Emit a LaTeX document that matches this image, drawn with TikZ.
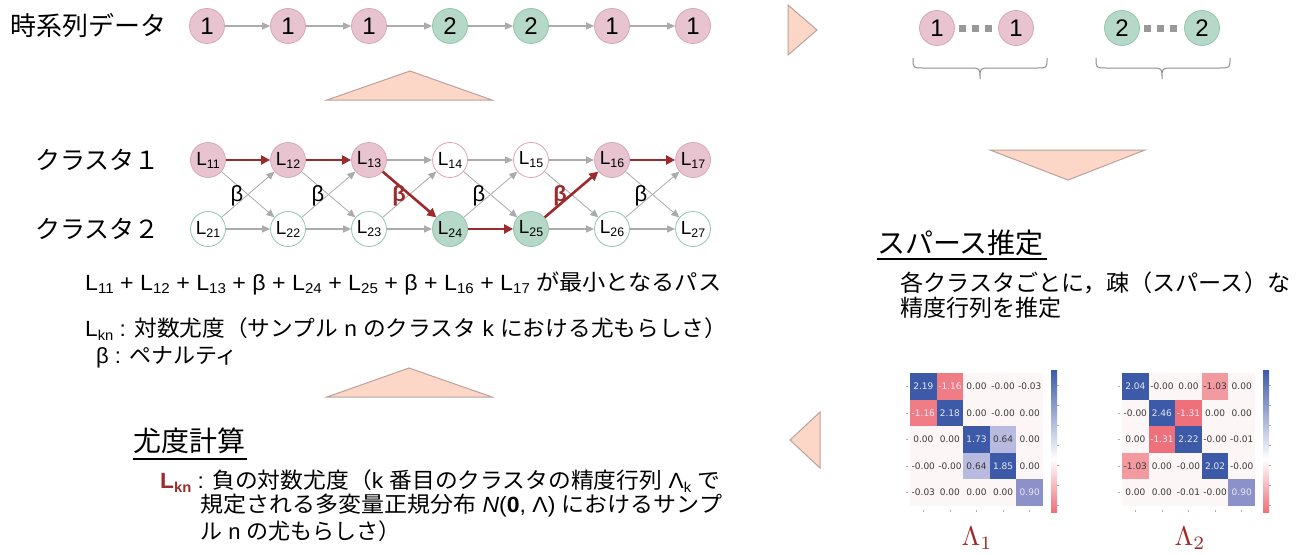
\documentclass[tikz,border=0pt]{standalone}
\usepackage{fontspec}
\usepackage{graphicx}
\setmainfont{Liberation Sans}
\newfontfamily\jp{Noto Sans CJK JP}
\newfontfamily\dvs{DejaVu Sans}
\usetikzlibrary{arrows.meta}
\definecolor{pinkF}{HTML}{E8C4D1}
\definecolor{pinkL}{HTML}{D9A6B8}
\definecolor{greenF}{HTML}{B6D8C9}
\definecolor{greenL}{HTML}{92C6AE}
\definecolor{triF}{HTML}{FCD6C6}
\definecolor{triL}{HTML}{BCA29A}
\definecolor{arrG}{HTML}{ABABAB}
\definecolor{redP}{HTML}{9E2B2B}
\definecolor{braceG}{HTML}{8E8E8E}
\definecolor{hB}{HTML}{3C5AA8}
\definecolor{h9}{HTML}{8D91CA}
\definecolor{h6}{HTML}{B8BADF}
\definecolor{hR1}{HTML}{F07C86}
\definecolor{hR3}{HTML}{EE707B}
\definecolor{hR0}{HTML}{F39AA1}
\definecolor{hZ}{HTML}{FCF6F6}
\definecolor{hD}{HTML}{3A3A3A}
\definecolor{hL}{HTML}{E6E9F4}
\newcommand\Lsb[1]{L\raisebox{-0.3ex}{\scalebox{0.65}{#1}}}
\newcommand\drawheat[3]{%
  \foreach \cx/\ry/\fc/\tc/\val in {#3} {%
    \fill[\fc] ({#1+26.6*\cx},{#2+26.6*\ry}) rectangle ++(26.6,26.6);
    \node[hmt,text=\tc] at ({#1+26.6*\cx+13.3},{#2+26.6*\ry+13.3}) {\val};
  }%
  \foreach \k in {0,...,4} {%
    \draw[arrG,line width=0.5pt] ({#1-4},{#2+26.6*\k+13.3}) -- ++(2,0);
    \draw[arrG,line width=0.5pt] ({#1+26.6*\k+13.3},{#2+137}) -- ++(0,2);
  }%
}
\tikzset{
  tri/.style={fill=triF, draw=triL, line width=1pt, line join=miter},
  cbase/.style={circle, minimum size=35pt, inner sep=0pt, line width=0.8pt},
  cp/.style={cbase, fill=pinkF, draw=pinkL},
  cg/.style={cbase, fill=greenF, draw=greenL},
  op/.style={cbase, fill=white, draw=pinkL},
  og/.style={cbase, fill=white, draw=greenL},
  num/.style={font=\fontsize{24}{24}\selectfont},
  lab/.style={font=\fontsize{19}{19}\selectfont},
  garr/.style={draw=arrG, line width=1.3pt, -{Triangle[length=8pt,width=7pt]}},
  xarr/.style={draw=arrG, line width=0.8pt, -{Triangle[length=8pt,width=7pt]}},
  rarr/.style={draw=redP, line width=2.6pt, -{Triangle[length=9pt,width=9pt]}},
  beta/.style={font=\fontsize{22}{22}\selectfont, inner sep=0pt},
  rbeta/.style={beta, text=redP, font=\fontsize{22}{22}\selectfont\bfseries},
  jtxt/.style={anchor=west, inner sep=0pt},
  hmt/.style={font=\dvs\fontsize{9}{9}\selectfont, inner sep=0pt},
  brace/.style={draw=braceG, line width=1pt},
  dotsq/.style={draw=gray!80, line width=7pt, dash pattern=on 7pt off 6pt, shorten <=4pt, shorten >=4pt},
  lamlab/.style={text=redP, inner sep=0pt}
}
\begin{document}
\begin{tikzpicture}[x=1pt,y=-1pt]
\useasboundingbox (0,0) rectangle (1300,554);
\fill[white] (0,0) rectangle (1300,554);

% ---- time series
\node[jtxt, font=\jp\fontsize{26}{26}\selectfont] (ts) at (10,26) {時系列データ};
\node[cp,num] (t1) at (207,26) {1};
\node[cp,num] (t2) at (288,26) {1};
\node[cp,num] (t3) at (369,26) {1};
\node[cg,num] (t4) at (450,26) {2};
\node[cg,num] (t5) at (531,26) {2};
\node[cp,num] (t6) at (612,26) {1};
\node[cp,num] (t7) at (693,26) {1};
\foreach \a/\b in {t1/t2,t2/t3,t3/t4,t4/t5,t5/t6,t6/t7} \draw[garr,line width=1.1pt] (\a) -- (\b);

% ---- triangles
\draw[tri] (327,100) -- (410,71) -- (492,100) -- cycle;
\draw[tri] (327,397) -- (409,368) -- (492,397) -- cycle;
\draw[tri] (788,5) -- (817,30) -- (788,55) -- cycle;
\draw[tri] (990,150) -- (1145,150) -- (1068,180) -- cycle;
\draw[tri] (820,412) -- (790,440) -- (820,468) -- cycle;

% ---- lattice
\node[jtxt, font=\jp\fontsize{25}{25}\selectfont] (k1) at (35,160) {クラスタ１};
\node[jtxt, font=\jp\fontsize{25}{25}\selectfont] (k2) at (35,229) {クラスタ２};
\node[cp,lab] (a1) at (208,160) {\Lsb{11}};
\node[cp,lab] (a2) at (288,160) {\Lsb{12}};
\node[cp,lab] (a3) at (369,160) {\Lsb{13}};
\node[op,lab] (a4) at (450,160) {\Lsb{14}};
\node[op,lab] (a5) at (531,160) {\Lsb{15}};
\node[cp,lab] (a6) at (612,160) {\Lsb{16}};
\node[cp,lab] (a7) at (693,160) {\Lsb{17}};
\node[og,lab] (b1) at (208,229) {\Lsb{21}};
\node[og,lab] (b2) at (288,229) {\Lsb{22}};
\node[og,lab] (b3) at (369,229) {\Lsb{23}};
\node[cg,lab] (b4) at (450,229) {\Lsb{24}};
\node[cg,lab] (b5) at (531,229) {\Lsb{25}};
\node[og,lab] (b6) at (612,229) {\Lsb{26}};
\node[og,lab] (b7) at (693,229) {\Lsb{27}};
\foreach \a/\b in {b1/b2,b2/b3,a3/a4,b3/b4,a4/a5,a5/a6,b5/b6,b6/b7} \draw[garr] (\a) -- (\b);
\foreach \a/\b in {a1/b2,b1/a2,a2/b3,b2/a3,b3/a4,a4/b5,b4/a5,a5/b6,a6/b7,b6/a7} \draw[xarr] (\a) -- (\b);
\foreach \a/\b in {a1/a2,a2/a3,a3/b4,b4/b5,b5/a6,a6/a7} \draw[rarr] (\a) -- (\b);
\node[beta] (be1) at (237,196) {β};
\node[beta] (be2) at (318,196) {β};
\node[rbeta] (be3) at (399,196) {β};
\node[beta] (be4) at (479,196) {β};
\node[rbeta] (be5) at (560,196) {β};
\node[beta] (be6) at (641,196) {β};

% ---- explanation
\node[jtxt, font=\fontsize{22}{22}\selectfont] (p1) at (85,283) {\resizebox{636pt}{\height}{\Lsb{11} + \Lsb{12} + \Lsb{13} + β + \Lsb{24} + \Lsb{25} + β + \Lsb{16} + \Lsb{17} {\jp が最小となるパス}}};
\node[jtxt, font=\fontsize{22}{22}\selectfont] (p2) at (85,329) {\resizebox{642pt}{\height}{\Lsb{kn} : {\jp 対数尤度（サンプル} n {\jp のクラスタ} k {\jp における尤もらしさ）}}};
\node[jtxt, font=\fontsize{22}{22}\selectfont] (p3) at (96,357) {β : {\jp ペナルティ}};

% ---- likelihood
\node[jtxt, font=\jp\fontsize{28}{28}\selectfont] (h1) at (133,441) {尤度計算};
\draw[line width=1.2pt] (133,459) -- (247,459);
\node[jtxt, font=\fontsize{22}{22}\selectfont] (q1) at (160,481) {\resizebox{560pt}{\height}{{\color{redP}\bfseries\Lsb{kn}} : {\jp 負の対数尤度（}k {\jp 番目のクラスタの精度行列} Λ\raisebox{-0.3ex}{\scalebox{0.65}{k}} {\jp で}}};
\node[jtxt, font=\fontsize{22}{22}\selectfont] (q2) at (200,506) {\resizebox{522pt}{\height}{{\jp 規定される多変量正規分布} \textit{N}(\textbf{0}, Λ) {\jp におけるサンプ}}};
\node[jtxt, font=\fontsize{22}{22}\selectfont] (q3) at (200,531) {{\jp ル} n {\jp の尤もらしさ）}};

% ---- right: clusters
\node[cp,num] (r1) at (937,28) {1};
\node[cp,num] (r2) at (1016,28) {1};
\node[cg,num] (r3) at (1122,28) {2};
\node[cg,num] (r4) at (1202,28) {2};
\draw[dotsq] (r1) -- (r2);
\draw[dotsq] (r3) -- (r4);
\draw[brace] (913,58) .. controls (913,68) .. (923,68) -- (970,68) .. controls (980,68) .. (980,79) .. controls (980,68) .. (990,68) -- (1037,68) .. controls (1047,68) .. (1047,58);
\draw[brace] (1096,58) .. controls (1096,68) .. (1106,68) -- (1152,68) .. controls (1162,68) .. (1162,79) .. controls (1162,68) .. (1172,68) -- (1220,68) .. controls (1230,68) .. (1230,58);

% ---- sparse estimation
\node[jtxt, font=\jp\fontsize{28}{28}\selectfont] (h2) at (877,243) {スパース推定};
\draw[line width=1.2pt] (877,259) -- (1047,259);
\node[jtxt, font=\jp\fontsize{23}{23}\selectfont] (s1) at (900,283) {\resizebox{390pt}{\height}{各クラスタごとに，疎（スパース）な}};
\node[jtxt, font=\jp\fontsize{23}{23}\selectfont] (s2) at (900,308) {精度行列を推定};

% ---- heatmaps
\drawheat{910}{373}{0/0/hB/hL/2.19, 1/0/hR1/hL/-1.16, 2/0/hZ/hD/0.00, 3/0/hZ/hD/-0.00, 4/0/hZ/hD/-0.03,
0/1/hR1/hL/-1.16, 1/1/hB/hL/2.18, 2/1/hZ/hD/0.00, 3/1/hZ/hD/-0.00, 4/1/hZ/hD/0.00,
0/2/hZ/hD/0.00, 1/2/hZ/hD/0.00, 2/2/hB/hL/1.73, 3/2/h6/hD/0.64, 4/2/hZ/hD/0.00,
0/3/hZ/hD/-0.00, 1/3/hZ/hD/-0.00, 2/3/h6/hD/0.64, 3/3/hB/hL/1.85, 4/3/hZ/hD/0.00,
0/4/hZ/hD/-0.03, 1/4/hZ/hD/0.00, 2/4/hZ/hD/0.00, 3/4/hZ/hD/0.00, 4/4/h9/hL/0.90}
\drawheat{1122}{373}{0/0/hB/hL/2.04, 1/0/hZ/hD/-0.00, 2/0/hZ/hD/0.00, 3/0/hR0/hD/-1.03, 4/0/hZ/hD/0.00,
0/1/hZ/hD/-0.00, 1/1/hB/hL/2.46, 2/1/hR3/hL/-1.31, 3/1/hZ/hD/0.00, 4/1/hZ/hD/0.00,
0/2/hZ/hD/0.00, 1/2/hR3/hL/-1.31, 2/2/hB/hL/2.22, 3/2/hZ/hD/-0.00, 4/2/hZ/hD/-0.01,
0/3/hR0/hD/-1.03, 1/3/hZ/hD/0.00, 2/3/hZ/hD/-0.00, 3/3/hB/hL/2.02, 4/3/hZ/hD/-0.00,
0/4/hZ/hD/0.00, 1/4/hZ/hD/0.00, 2/4/hZ/hD/-0.01, 3/4/hZ/hD/-0.00, 4/4/h9/hL/0.90}
% colorbars
\shade[top color=hB, bottom color=white] (1051,370) rectangle (1057,459);
\shade[top color=white, bottom color=hR3] (1051,459) rectangle (1057,512);
\shade[top color=hB, bottom color=white] (1263,370) rectangle (1269,459);
\shade[top color=white, bottom color=hR3] (1263,459) rectangle (1269,512);
\foreach \yy in {385,405,425,445,465,485,505} {
  \draw[arrG,line width=0.4pt] (1057,\yy) -- ++(2,0);
  \draw[arrG,line width=0.4pt] (1269,\yy) -- ++(2,0);
}
\node[lamlab] (lam1) at (977,538) {\scalebox{2.7}{$\Lambda_1$}};
\node[lamlab] (lam2) at (1190,538) {\scalebox{2.7}{$\Lambda_2$}};
\end{tikzpicture}
\end{document}
